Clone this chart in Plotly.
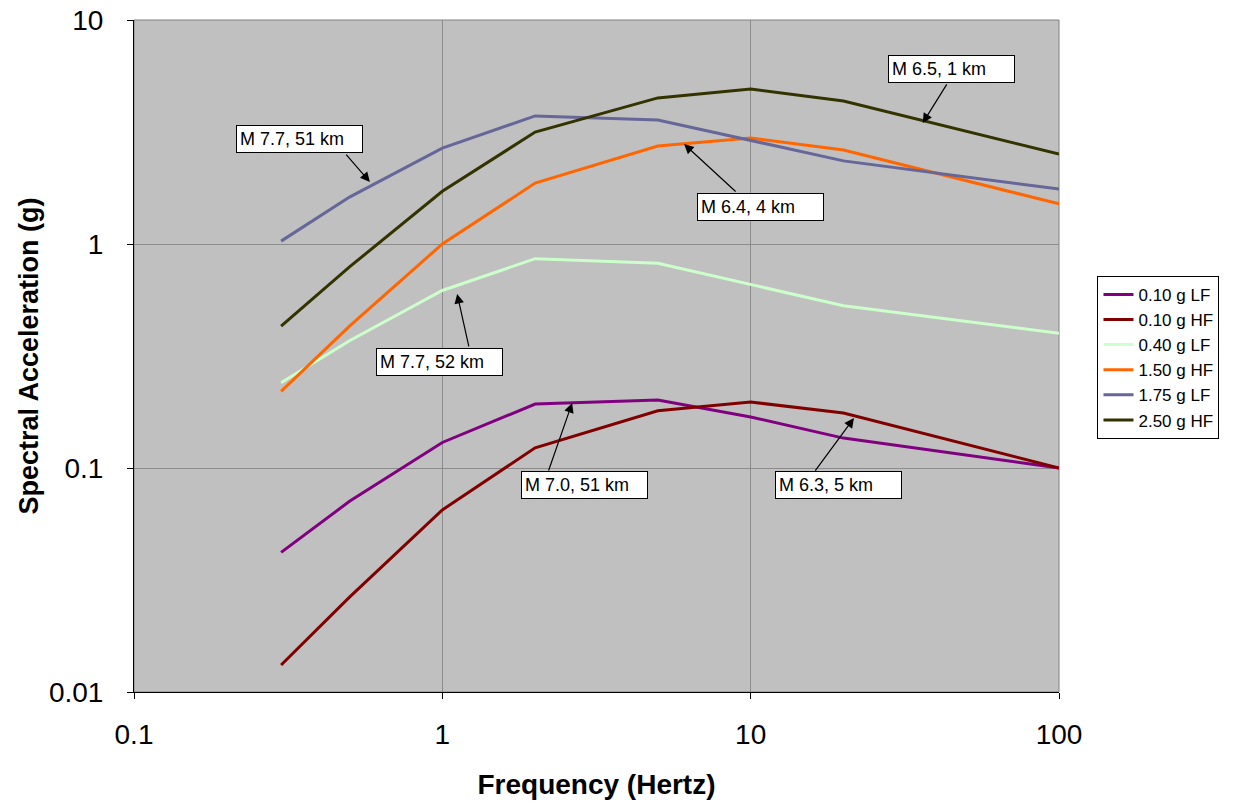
import plotly.graph_objects as go

freq = [0.3, 0.5, 1, 2, 5, 10, 20, 100]

series_names = ["0.10 g LF", "0.10 g HF", "0.40 g LF", "1.50 g HF", "1.75 g LF", "2.50 g HF"]
sa_010_lf = [0.042, 0.071, 0.13, 0.193, 0.201, 0.169, 0.136, 0.100]
sa_010_hf = [0.0132, 0.0265, 0.065, 0.123, 0.180, 0.197, 0.176, 0.100]
sa_040_lf = [0.24, 0.37, 0.62, 0.86, 0.82, 0.66, 0.53, 0.40]
sa_150_hf = [0.22, 0.43, 1.00, 1.87, 2.74, 2.97, 2.63, 1.51]
sa_175_lf = [1.03, 1.62, 2.68, 3.73, 3.58, 2.91, 2.35, 1.76]
sa_250_hf = [0.43, 0.79, 1.72, 3.16, 4.49, 4.92, 4.35, 2.52]
series_values = [sa_010_lf, sa_010_hf, sa_040_lf, sa_150_hf, sa_175_lf, sa_250_hf]
colors = ["#800080", "#800000", "#CCFFCC", "#FF6600", "#666699", "#333300"]

x_tick_vals = [0.1, 1, 10, 100]
x_tick_text = ["0.1", "1", "10", "100"]
y_tick_vals = [0.01, 0.1, 1, 10]
y_tick_text = ["0.01", "0.1", "1", "10"]

# annotation labels; positions in log10 data units: box centre, arrow tail, arrow head
ann_text = ["M 7.7, 51 km", "M 7.7, 52 km", "M 7.0, 51 km", "M 6.4, 4 km", "M 6.3, 5 km", "M 6.5, 1 km"]
ann_box = [(-0.462, 0.469), (-0.008, -0.527), (0.462, -1.078), (1.032, 0.165), (1.285, -1.078), (1.650, 0.781)]
ann_tail = [(-0.316, 0.406), (0.087, -0.464), (0.343, -1.018), (0.956, 0.228), (1.206, -1.018), (1.639, 0.719)]
ann_head = [(-0.235, 0.277), (0.048, -0.223), (0.421, -0.710), (0.784, 0.446), (1.335, -0.777), (1.558, 0.540)]

FONT = "Arial, 'Liberation Sans', sans-serif"

fig = go.Figure()
for name, vals, col in zip(series_names, series_values, colors):
    fig.add_trace(go.Scatter(x=freq, y=vals, mode="lines", name=name,
                             line=dict(color=col, width=3)))

annotations = []
for txt, b, t, h in zip(ann_text, ann_box, ann_tail, ann_head):
    annotations.append(dict(x=b[0], y=b[1], xref="x", yref="y", text=txt, showarrow=False,
                            font=dict(family=FONT, size=18, color="black"),
                            bgcolor="white", bordercolor="black", borderwidth=1,
                            borderpad=3, width=119, height=20, align="left"))
    annotations.append(dict(x=h[0], y=h[1], xref="x", yref="y", ax=t[0], ay=t[1],
                            axref="x", ayref="y", text="", showarrow=True,
                            arrowhead=2, arrowsize=1.6, arrowwidth=1.2, arrowcolor="black"))

fig.update_layout(
    width=1233, height=803,
    margin=dict(l=134, r=174, t=20, b=111, autoexpand=False),
    paper_bgcolor="white", plot_bgcolor="#C0C0C0",
    font=dict(family=FONT, color="black"),
    showlegend=True,
    legend=dict(x=1.0416, y=0.498, xanchor="left", yanchor="middle",
                bgcolor="white", bordercolor="black", borderwidth=1,
                font=dict(family=FONT, size=17, color="black"),
                tracegroupgap=0, itemwidth=30),
    annotations=annotations,
    shapes=[dict(type="rect", xref="paper", yref="paper", x0=0, y0=0, x1=1, y1=1,
                 line=dict(color="#808080", width=1), layer="below")],
)
fig.update_xaxes(type="log", range=[-1, 2], tickvals=x_tick_vals, ticktext=x_tick_text,
                 automargin=False,
                 showgrid=True, gridcolor="#8C8C8C", gridwidth=1,
                 showline=True, linecolor="black", linewidth=1,
                 ticks="outside", ticklen=6, tickcolor="black",
                 ticklabelstandoff=11, zeroline=False,
                 tickfont=dict(family=FONT, size=28, color="black"),
                 title=dict(text="<b>Frequency (Hertz)</b>", standoff=25,
                            font=dict(family=FONT, size=28, color="black")))
fig.update_yaxes(type="log", range=[-2, 1], tickvals=y_tick_vals, ticktext=y_tick_text,
                 automargin=False,
                 showgrid=True, gridcolor="#8C8C8C", gridwidth=1,
                 showline=True, linecolor="black", linewidth=1,
                 ticks="outside", ticklen=6, tickcolor="black",
                 ticklabelstandoff=18, zeroline=False,
                 tickfont=dict(family=FONT, size=28, color="black"),
                 title=dict(text="<b>Spectral Acceleration (g)</b>", standoff=2,
                            font=dict(family=FONT, size=27, color="black")))

fig.write_html("out.html")
